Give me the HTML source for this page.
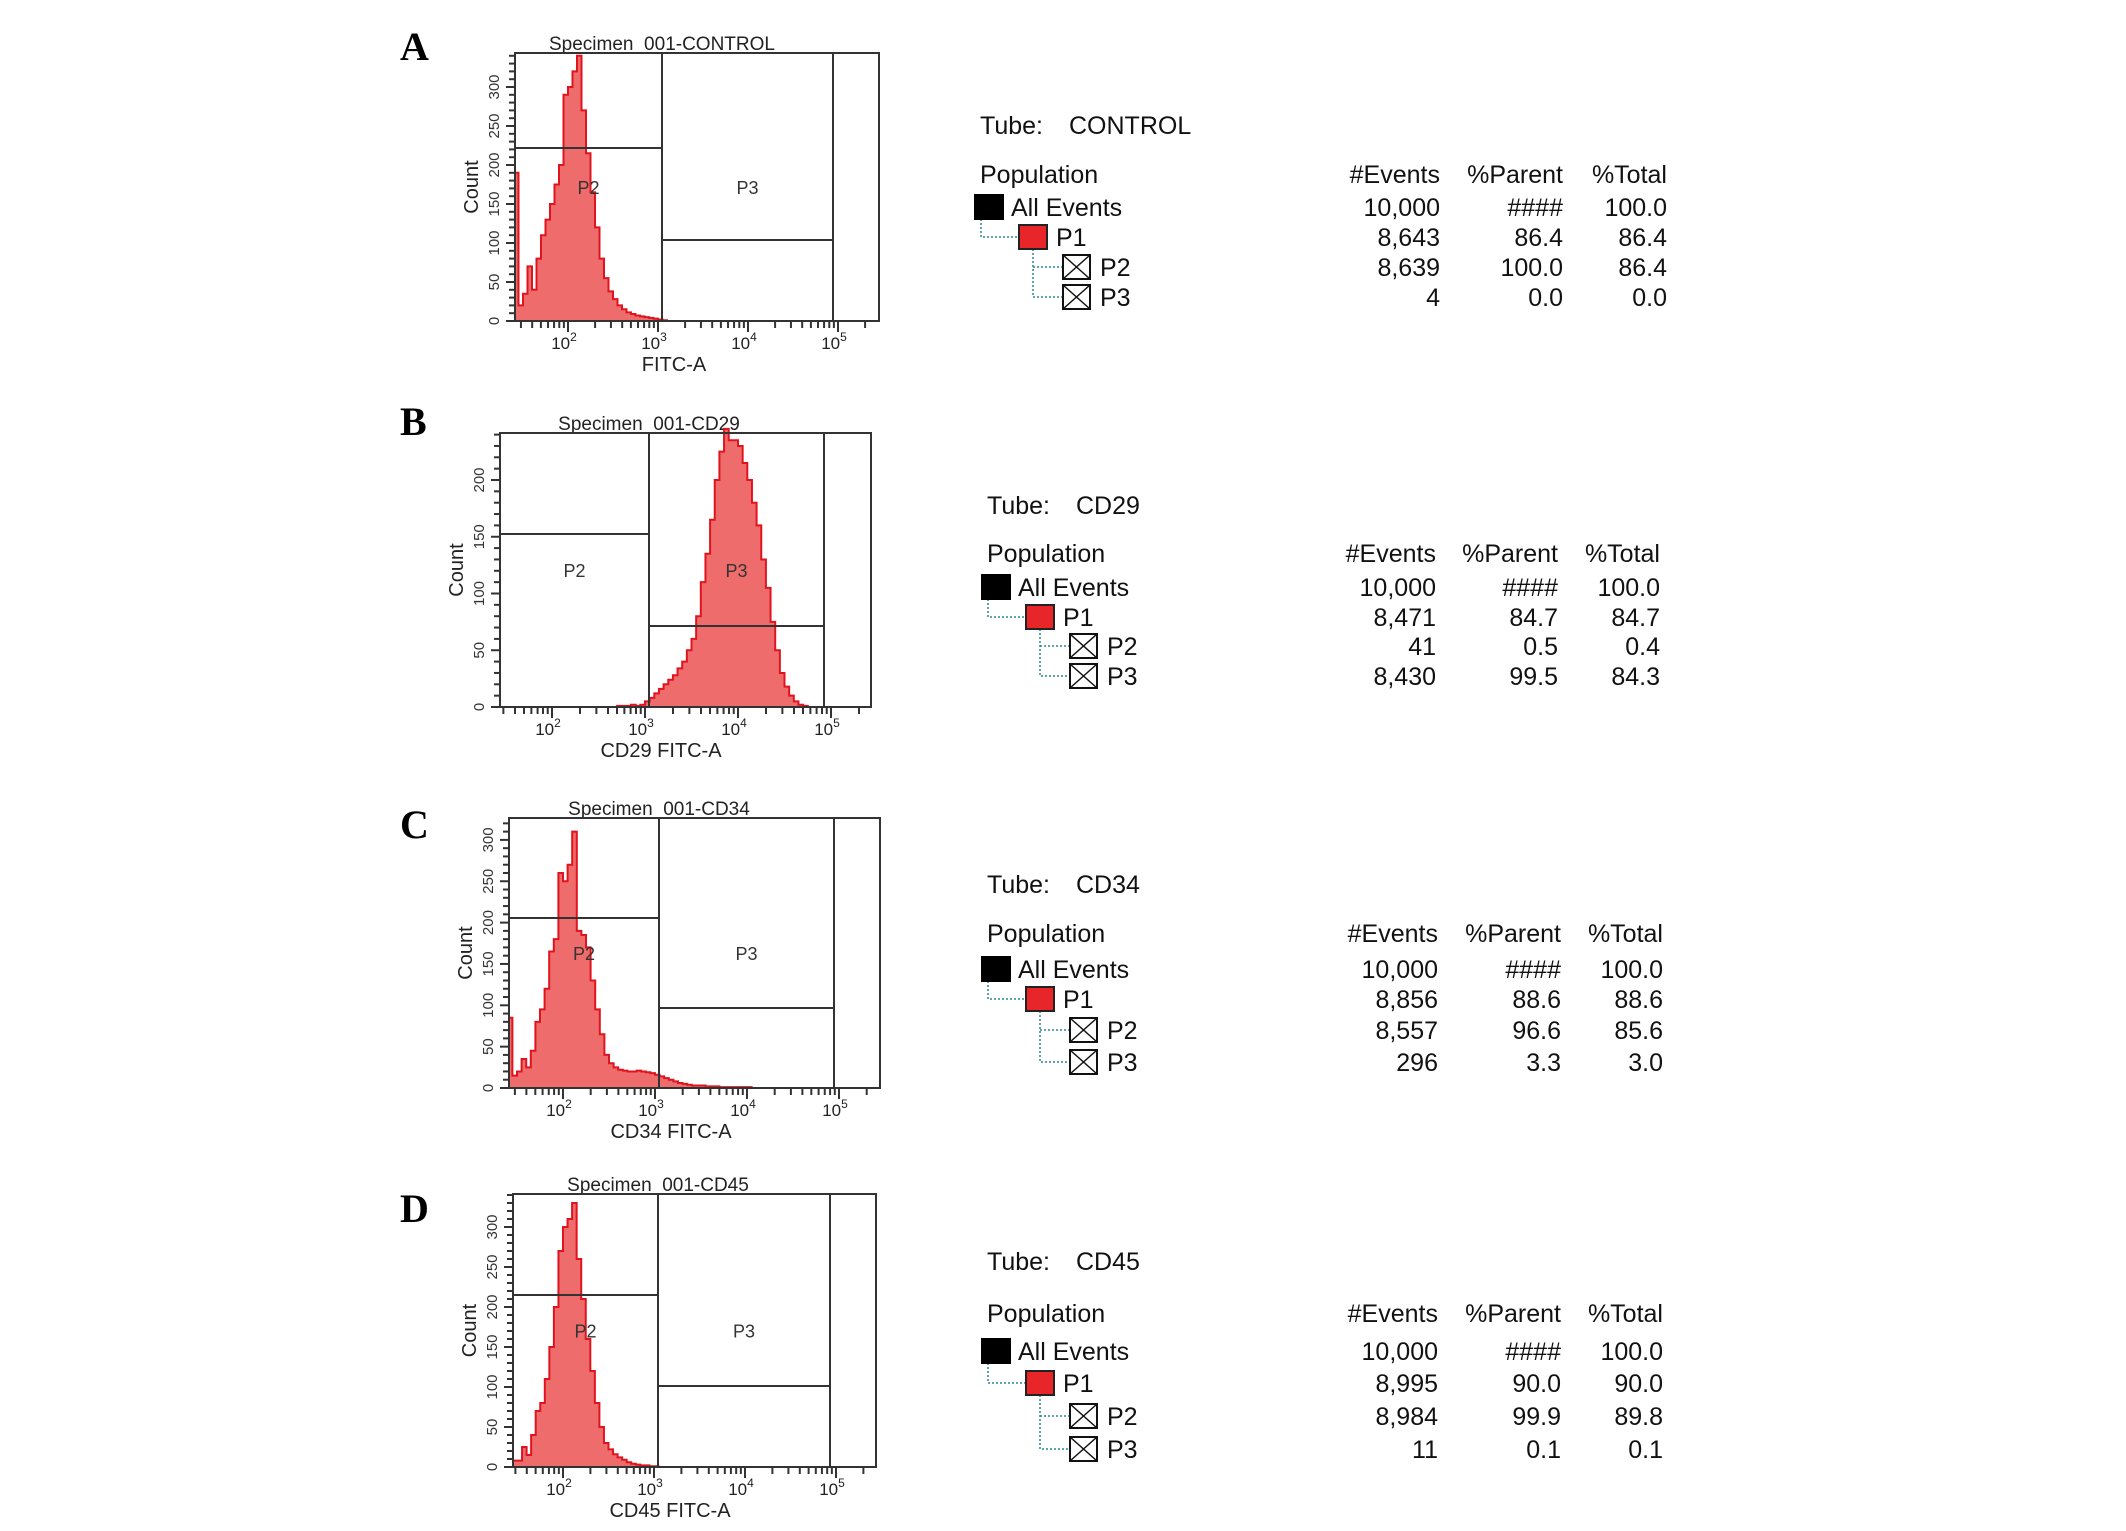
<!DOCTYPE html>
<html><head><meta charset="utf-8">
<style>
html,body{margin:0;padding:0;background:#fff;}
svg{display:block;}
text{font-family:"Liberation Sans",Arial,sans-serif;}
.tbl text{font-family:"Liberation Sans Narrow","Liberation Sans",sans-serif;font-size:25px;fill:#111;}
.letter{font-family:"Liberation Serif","Times New Roman",serif !important;font-weight:bold;}
</style></head>
<body>
<svg id="fig" width="2126" height="1531" viewBox="0 0 2126 1531" xmlns="http://www.w3.org/2000/svg"></svg>
<script>
// ---- histogram data: counts per log10 bin, bins start at log10 = 1.40, width 0.05 ----
const binStart = 1.40;
const binWidth = 0.05;
const countsA = [190,20,35,70,40,80,110,130,150,175,200,290,300,320,340,270,215,165,120,80,55,38,28,20,15,11,9,7,6,5,4,3,2,1];
const countsB = [0,0,0,0,0,0,0,0,0,0,0,0,0,0,0,0,0,0,0,0,0,0,0,0,0,0,1,1,1,2,1,2,5,8,12,16,20,24,28,34,40,50,60,80,110,135,165,200,225,245,235,235,230,215,200,180,160,130,105,75,50,30,18,10,5,2,1];
const countsC = [85,15,20,35,25,45,80,95,120,165,180,260,250,270,310,190,185,170,130,95,65,40,30,25,22,21,20,20,21,20,19,18,16,14,12,10,8,6,5,4,3,3,3,2,2,2,1,1,1,1,1,1,1];
const countsD = [75,8,8,25,15,40,70,80,110,150,200,270,300,310,330,260,210,160,120,80,50,30,22,16,12,9,6,4,3,2,2,1,1];
const yTickLabels = ["0","50","100","150","200","250","300"];
const xDecades = [2,3,4,5];
// ---- table data ----
const tubeNames = ["CONTROL","CD29","CD34","CD45"];
const popNames = ["All Events","P1","P2","P3"];
const eventsA = ["10,000","8,643","8,639","4"];
const parentA = ["####","86.4","100.0","0.0"];
const totalA  = ["100.0","86.4","86.4","0.0"];
const eventsB = ["10,000","8,471","41","8,430"];
const parentB = ["####","84.7","0.5","99.5"];
const totalB  = ["100.0","84.7","0.4","84.3"];
const eventsC = ["10,000","8,856","8,557","296"];
const parentC = ["####","88.6","96.6","3.3"];
const totalC  = ["100.0","88.6","85.6","3.0"];
const eventsD = ["10,000","8,995","8,984","11"];
const parentD = ["####","90.0","99.9","0.1"];
const totalD  = ["100.0","90.0","89.8","0.1"];

const svg = document.getElementById('fig');
const NS = 'http://www.w3.org/2000/svg';
function mk(tag, attrs, parent){
  const e = document.createElementNS(NS, tag);
  for (const k in attrs) e.setAttribute(k, attrs[k]);
  (parent||svg).appendChild(e);
  return e;
}

const panels = [
 {key:'a',letter:'A',lx:400,ly:60,title:'Specimen_001-CONTROL',xlabel:'FITC-A',L:515,R:879,T:53,B:321,x2:568,dec:90,ppc:0.78,g1:662,g2:833,p2y:148,p3y:240,counts:countsA,
  tube:tubeNames[0],ev:eventsA,pa:parentA,to:totalA,tx:980,tubeY:134,popY:183,rows:[207,237,267,297],cols:[1440,1563,1667]},
 {key:'b',letter:'B',lx:400,ly:435,title:'Specimen_001-CD29',xlabel:'CD29 FITC-A',L:500,R:871,T:433,B:707,x2:552,dec:93,ppc:1.135,g1:649,g2:824,p2y:534,p3y:626,counts:countsB,
  tube:tubeNames[1],ev:eventsB,pa:parentB,to:totalB,tx:987,tubeY:514,popY:562,rows:[587,617,646,676],cols:[1436,1558,1660]},
 {key:'c',letter:'C',lx:400,ly:838,title:'Specimen_001-CD34',xlabel:'CD34 FITC-A',L:509,R:880,T:818,B:1088,x2:563,dec:92,ppc:0.827,g1:659,g2:834,p2y:918,p3y:1008,counts:countsC,
  tube:tubeNames[2],ev:eventsC,pa:parentC,to:totalC,tx:987,tubeY:893,popY:942,rows:[969,999,1030,1062],cols:[1438,1561,1663]},
 {key:'d',letter:'D',lx:400,ly:1222,title:'Specimen_001-CD45',xlabel:'CD45 FITC-A',L:513,R:876,T:1194,B:1467,x2:563,dec:91,ppc:0.8,g1:658,g2:830,p2y:1295,p3y:1386,counts:countsD,
  tube:tubeNames[3],ev:eventsD,pa:parentD,to:totalD,tx:987,tubeY:1270,popY:1322,rows:[1351,1383,1416,1449],cols:[1438,1561,1663]}
];

panels.forEach(p => {
  const g = mk('g', {});
  
  
  const xOf = v => p.x2 + (v - 2) * p.dec;
  const yOf = c => p.B - c * p.ppc;
  const axisMin = 2 + (p.L - p.x2) / p.dec;

  const lt = mk('text', {x:p.lx, y:p.ly, 'class':'letter', 'font-size':40, fill:'#000'}, g);
  lt.textContent = p.letter;
  
  

  const tt = mk('text', {x:p.g1, y:p.T - 3, 'text-anchor':'middle', 'font-size':19, fill:'#222'}, g);
  tt.textContent = p.title;
  
  

  // histogram
  let d = '';
  let first = true;
  p.counts.forEach((c, i) => {
    const a = Math.max(binStart + i * binWidth, axisMin);
    const b = binStart + (i + 1) * binWidth;
    if (b <= axisMin) return;
    const xa = xOf(a), xb = xOf(b), y = yOf(c);
    if (first) { d += 'M' + xa + ',' + p.B + ' L' + xa + ',' + y; first = false; }
    else d += ' L' + xa + ',' + y;
    d += ' L' + xb + ',' + y;
  });
  const lastX = xOf(binStart + p.counts.length * binWidth);
  d += ' L' + lastX + ',' + p.B + ' Z';
  const h = mk('path', {d:d, fill:'#ee6c6c', stroke:'#e0141e', 'stroke-width':2, 'stroke-linejoin':'miter'}, g);
  
  

  // frame
  const fr = mk('rect', {x:p.L, y:p.T, width:p.R - p.L, height:p.B - p.T, fill:'none', stroke:'#333', 'stroke-width':2}, g);
  
  

  // gates
  const gates = mk('g', {stroke:'#333', 'stroke-width':2}, g);
  
  
  mk('line', {x1:p.L, y1:p.p2y, x2:p.g1, y2:p.p2y}, gates);
  mk('line', {x1:p.g1, y1:p.T, x2:p.g1, y2:p.B}, gates);
  mk('line', {x1:p.g1, y1:p.p3y, x2:p.g2, y2:p.p3y}, gates);
  mk('line', {x1:p.g2, y1:p.T, x2:p.g2, y2:p.B}, gates);
  const midY = (p.T + p.B) / 2 + 7;
  const l2 = mk('text', {x:(p.L + p.g1) / 2, y:midY, 'text-anchor':'middle', 'font-size':18, fill:'#333'}, g);
  l2.textContent = 'P2';
  
  
  const l3 = mk('text', {x:(p.g1 + p.g2) / 2, y:midY, 'text-anchor':'middle', 'font-size':18, fill:'#333'}, g);
  l3.textContent = 'P3';
  
  

  // y axis ticks
  const ya = mk('g', {stroke:'#333', 'stroke-width':2}, g);
  
  
  const maxC = Math.floor((p.B - p.T) / p.ppc);
  for (let c = 0; c <= maxC; c += 10) {
    const major = c % 50 === 0;
    mk('line', {x1:p.L - (major ? 9 : 6), y1:yOf(c), x2:p.L, y2:yOf(c)}, ya);
  }
  yTickLabels.forEach(s => {
    const c = +s;
    if (c > maxC) return;
    const yy = yOf(c);
    const t = mk('text', {x:p.L - 16, y:yy, 'text-anchor':'middle', 'font-size':15, fill:'#333', transform:'rotate(-90 ' + (p.L - 16) + ' ' + yy + ')'}, g);
    t.textContent = s;
    
    
  });
  const cy = (p.T + p.B) / 2;
  const ct = mk('text', {x:p.L - 37, y:cy, 'text-anchor':'middle', 'font-size':20, fill:'#222', transform:'rotate(-90 ' + (p.L - 37) + ' ' + cy + ')'}, g);
  ct.textContent = 'Count';
  
  

  // x axis ticks
  const xa = mk('g', {stroke:'#333', 'stroke-width':2}, g);
  
  
  for (let dd = 1; dd <= 5; dd++) {
    for (let m = 1; m <= 9; m++) {
      const v = dd + Math.log10(m);
      const x = xOf(v);
      if (x < p.L || x > p.R) continue;
      mk('line', {x1:x, y1:p.B, x2:x, y2:p.B + (m === 1 ? 11 : 7)}, xa);
    }
  }
  xDecades.forEach(e => {
    const x = xOf(e);
    const t = mk('text', {x:x - 4, y:p.B + 28, 'text-anchor':'middle', 'font-size':17, fill:'#222'}, g);
    t.textContent = '10';
    const sup = mk('tspan', {dy:-8, 'font-size':12}, t);
    sup.textContent = String(e);
    
    
  });
  const xt = mk('text', {x:p.g1 + 12, y:p.B + 50, 'text-anchor':'middle', 'font-size':20, fill:'#222'}, g);
  xt.textContent = p.xlabel;
  
  

  // ---- statistics table ----
  const tg = mk('g', {'class':'tbl'});
  
  
  const tube = mk('text', {x:p.tx, y:p.tubeY}, tg);
  tube.textContent = 'Tube:';
  
  
  const tubeV = mk('text', {x:p.tx + 89, y:p.tubeY}, tg);
  tubeV.textContent = p.tube;
  
  
  const pop = mk('text', {x:p.tx, y:p.popY}, tg);
  pop.textContent = 'Population';
  
  
  const heads = ['#Events', '%Parent', '%Total'];
  heads.forEach((hd, i) => {
    const t = mk('text', {x:p.cols[i], y:p.popY, 'text-anchor':'end'}, tg);
    t.textContent = hd;
    
    
  });
  const sx = p.tx - 6;
  const indent = [0, 45, 89, 89];
  const rg = mk('g', {}, tg);
  
  
  const conn = mk('g', {stroke:'#2a8a8a', 'stroke-width':1.5, 'stroke-dasharray':'2,2', fill:'none'}, rg);
  mk('path', {d:'M' + (sx + 7) + ',' + (p.rows[0] + 12) + ' V' + p.rows[1] + ' H' + (sx + 45)}, conn);
  mk('path', {d:'M' + (sx + 59) + ',' + (p.rows[1] + 12) + ' V' + p.rows[3] + ' H' + (sx + 89) + ' M' + (sx + 59) + ',' + p.rows[2] + ' H' + (sx + 89)}, conn);
  popNames.forEach((nm, i) => {
    const ry = p.rows[i];
    const bx = sx + indent[i];
    if (i === 0) {
      mk('rect', {x:bx, y:ry - 13, width:30, height:26, fill:'#000'}, rg);
    } else if (i === 1) {
      mk('rect', {x:bx, y:ry - 12, width:28, height:24, fill:'#e8262a', stroke:'#222', 'stroke-width':2}, rg);
    } else {
      mk('rect', {x:bx, y:ry - 12, width:27, height:24, fill:'#fff', stroke:'#111', 'stroke-width':2}, rg);
      mk('path', {d:'M' + bx + ',' + (ry - 12) + ' L' + (bx + 27) + ',' + (ry + 12) + ' M' + (bx + 27) + ',' + (ry - 12) + ' L' + bx + ',' + (ry + 12), stroke:'#111', 'stroke-width':1.5}, rg);
    }
    const t = mk('text', {x:bx + 37, y:ry + 9}, rg);
    t.textContent = nm;
    
    
    [p.ev[i], p.pa[i], p.to[i]].forEach((v, j) => {
      const c = mk('text', {x:p.cols[j], y:ry + 9, 'text-anchor':'end'}, tg);
      c.textContent = v;
      
      
    });
  });
});
</script>
</body></html>
